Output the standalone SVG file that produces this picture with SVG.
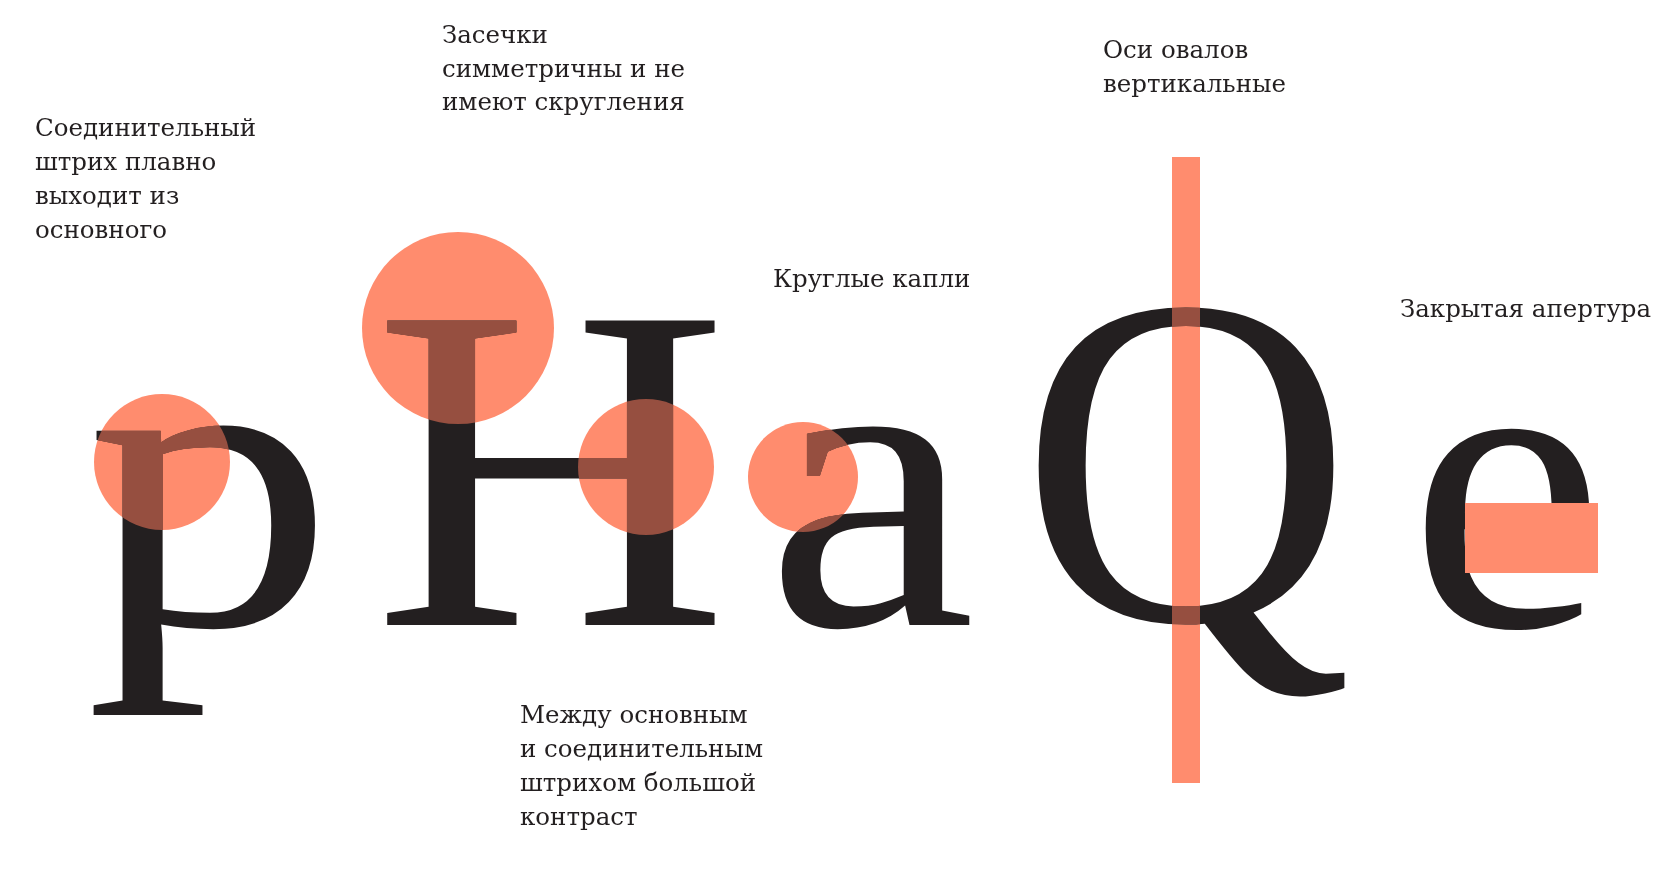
<svg xmlns="http://www.w3.org/2000/svg" width="1680" height="869" viewBox="0 0 1680 869">
  <style>
    .bg { fill: #ffffff; }
    .glyph { font-family: "Liberation Serif", "Times New Roman", serif; font-size: 465px; fill: #231f20; text-anchor: middle; }
    .label { font-family: "DejaVu Serif", "Liberation Serif", serif; font-size: 24.5px; fill: #231f20; }
    .hl { fill: #ff8c6e; }
    .hl-over { fill: #964f40; mix-blend-mode: lighten; }
  </style>
  <rect class="bg" x="0" y="0" width="1680" height="869"/>

  <g id="letter-p">
    <circle class="hl" cx="162" cy="462" r="68"/>
    <text class="glyph" transform="translate(210 625) scale(1.07 0.91)">p</text>
    <circle class="hl-over" cx="162" cy="462" r="68"/>
  </g>

  <g id="letter-H">
    <circle class="hl" cx="458" cy="328" r="96"/>
    <circle class="hl" cx="646" cy="467" r="68"/>
    <text class="glyph" transform="translate(551 625) scale(1.06 1)">H</text>
    <circle class="hl-over" cx="458" cy="328" r="96"/>
    <circle class="hl-over" cx="646" cy="467" r="68"/>
  </g>

  <g id="letter-a">
    <circle class="hl" cx="803" cy="477" r="55"/>
    <text class="glyph" transform="translate(870.5 625) scale(1.02 0.91)">a</text>
    <circle class="hl-over" cx="803" cy="477" r="55"/>
  </g>

  <g id="letter-Q">
    <rect class="hl" x="1172" y="157" width="28" height="626"/>
    <text class="glyph" transform="translate(1186 620) scale(0.99 1.015)">Q</text>
    <rect class="hl-over" x="1172" y="157" width="28" height="626"/>
  </g>

  <g id="letter-e">
    <text class="glyph" transform="translate(1506.5 626) scale(0.95 0.9)">e</text>
    <rect class="hl" x="1465" y="503" width="133" height="70"/>
  </g>

  <g id="labels">
    <text id="label-connecting" class="label">
      <tspan x="35" y="136">Соединительный</tspan>
      <tspan x="35" y="170">штрих плавно</tspan>
      <tspan x="35" y="204">выходит из</tspan>
      <tspan x="35" y="238">основного</tspan>
    </text>
    <text id="label-serifs" class="label">
      <tspan x="442" y="43">Засечки</tspan>
      <tspan x="442" y="77">симметричны и не</tspan>
      <tspan x="442" y="110">имеют скругления</tspan>
    </text>
    <text id="label-drops" class="label" x="773" y="287">Круглые капли</text>
    <text id="label-axes" class="label">
      <tspan x="1103" y="58">Оси овалов</tspan>
      <tspan x="1103" y="92">вертикальные</tspan>
    </text>
    <text id="label-aperture" class="label" x="1400" y="317">Закрытая апертура</text>
    <text id="label-contrast" class="label">
      <tspan x="520" y="723">Между основным</tspan>
      <tspan x="520" y="757">и соединительным</tspan>
      <tspan x="520" y="791">штрихом большой</tspan>
      <tspan x="520" y="825">контраст</tspan>
    </text>
  </g>
</svg>
